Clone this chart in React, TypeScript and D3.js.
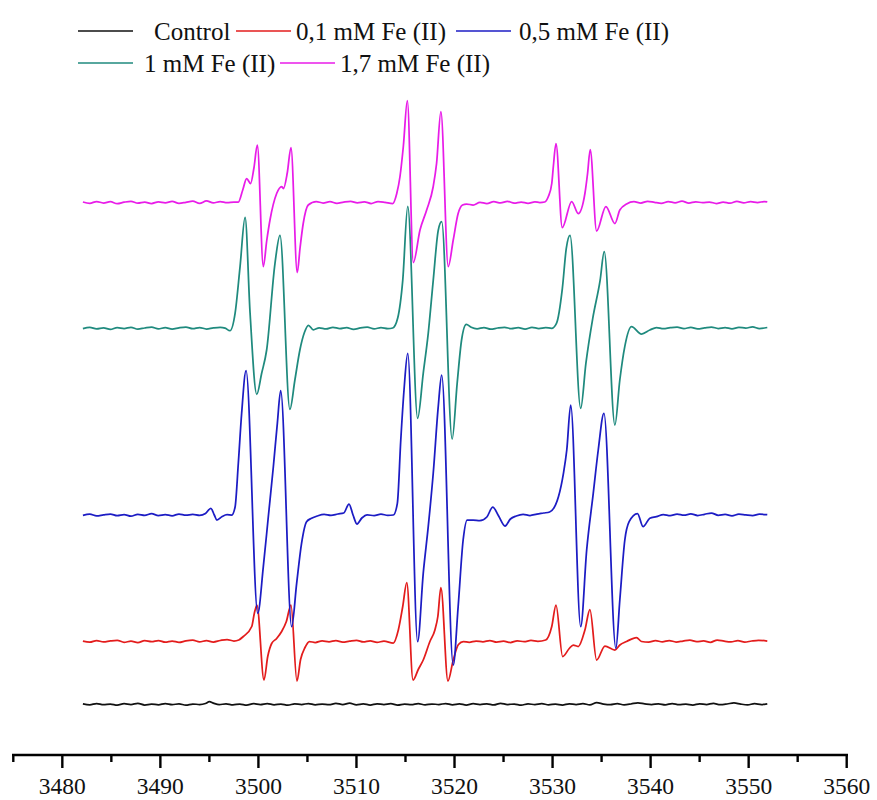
import React from 'react';
import * as d3 from 'd3';

const W = 877;
const H = 800;

const majorTicks = [3480, 3490, 3500, 3510, 3520, 3530, 3540, 3550, 3560];
const minorTicks = [3475, 3485, 3495, 3505, 3515, 3525, 3535, 3545, 3555];

const seriesNames = ['Control', '0,1 mM Fe (II)', '0,5 mM Fe (II)', '1 mM Fe (II)', '1,7 mM Fe (II)'];
const seriesColors = ['#111111', '#e31c1c', '#1c1cc4', '#1f8a7e', '#e81ce8'];
const seriesOffsets = [50.7, 113.5, 240, 426.7, 552.5];

// [field (G), signal relative to the trace's own baseline]
const controlData: number[][] = [
  [3482.1, 0.5], [3482.8, -0.6], [3483.5, 0.8], [3484.2, -0.4], [3484.9, 0.3], [3485.6, -0.9], [3486.3, 0.6], [3487.0, -0.2],
  [3487.7, 0.9], [3488.4, -0.7], [3489.1, 0.2], [3489.8, -0.5], [3490.5, 0.7], [3491.2, -0.3], [3491.9, 0.4], [3492.6, -0.8],
  [3493.3, 0.3], [3494.0, -0.2], [3494.6, 0.8], [3495.0, 2.6], [3495.4, 1.2], [3496.0, -0.4], [3496.7, 0.5], [3497.4, -0.6],
  [3498.1, 0.3], [3498.8, -0.8], [3499.5, 0.6], [3500.2, -0.3], [3500.9, 0.7], [3501.6, -0.5], [3502.3, 0.2], [3503.0, -0.9],
  [3503.7, 0.5], [3504.4, -0.2], [3505.1, 0.8], [3505.8, -0.6], [3506.5, 0.3], [3507.2, -0.4], [3507.9, 0.9], [3508.6, -0.2],
  [3509.3, 1.2], [3510.0, -0.5], [3510.7, 0.4], [3511.4, -0.7], [3512.1, 0.5], [3512.8, -0.3], [3513.5, 0.6], [3514.2, -0.8],
  [3514.9, 0.2], [3515.6, -0.4], [3516.3, 0.7], [3517.0, -0.6], [3517.7, 0.3], [3518.4, -0.2], [3519.1, 0.8], [3519.8, -0.5],
  [3520.5, 0.4], [3521.2, -0.7], [3521.9, 0.6], [3522.6, -0.3], [3523.3, 0.5], [3524.0, -0.6], [3524.7, 1.0], [3525.4, -0.2],
  [3526.1, 0.3], [3526.8, -0.8], [3527.5, 0.4], [3528.2, -0.3], [3528.9, 0.6], [3529.6, -0.5], [3530.3, 0.2], [3531.0, -0.7],
  [3531.7, 0.5], [3532.4, -0.2], [3533.1, 0.7], [3533.8, -0.6], [3534.5, 1.6], [3535.2, 0.2], [3535.9, -0.4], [3536.6, 0.6],
  [3537.3, -0.5], [3538.0, 0.3], [3538.7, 1.5], [3539.4, 0.5], [3540.1, -0.2], [3540.8, 0.4], [3541.5, -0.6], [3542.2, 0.8],
  [3542.9, -0.3], [3543.6, 0.2], [3544.3, -0.7], [3545.0, 0.5], [3545.7, -0.2], [3546.4, 0.9], [3547.1, -0.4], [3547.8, 0.3],
  [3548.5, 1.4], [3549.2, 0.2], [3549.9, -0.5], [3550.6, 0.6], [3551.3, -0.2], [3551.9, 0.5],
];

const fe01Data: number[][] = [
  [3482.1, 0.4], [3482.8, -0.7], [3483.5, 0.9], [3484.2, -0.4], [3484.9, 0.6], [3485.6, 1.2], [3486.3, -0.8], [3487.0, 0.3],
  [3487.7, -1.0], [3488.4, 0.8], [3489.1, -0.2], [3489.8, 1.0], [3490.5, -0.6], [3491.2, 0.5], [3491.9, -0.9], [3492.6, 0.7],
  [3493.3, 1.4], [3494.0, -0.3], [3494.7, 0.8], [3495.4, -0.5], [3496.1, 1.0], [3496.8, 2.0], [3497.5, 0.5], [3498.0, 1.5],
  [3498.46, 5], [3499.32, 15], [3499.58, 28], [3499.85, 36.5], [3500.57, -38.5], [3500.95, -15], [3501.35, -2], [3501.86, 3],
  [3502.37, 10], [3502.85, 20], [3503.32, 36.5], [3503.93, -39.5], [3504.3, -18], [3504.75, -6], [3505.2, 0],
  [3505.8, -1.0], [3506.5, 0.6], [3507.2, -0.3], [3507.9, 0.9], [3508.6, -0.6], [3509.3, 0.4], [3510.0, 1.2], [3510.7, -0.4],
  [3511.4, 0.7], [3512.1, -0.8], [3512.8, 0.3], [3513.76, -1.5],
  [3514.27, 11.5], [3514.72, 35], [3515.13, 59], [3515.77, -38.5], [3516.3, -28], [3516.81, -18.5], [3517.49, 0], [3518.0, 11.5],
  [3518.3, 25], [3518.61, 54], [3519.33, -39.5], [3519.87, -18.5], [3520.4, -3], [3520.9, 0],
  [3521.5, -0.8], [3522.2, 0.5], [3522.9, -0.4], [3523.6, 1.0], [3524.3, -0.6], [3525.0, 0.3], [3525.7, -1.0], [3526.4, 0.7],
  [3527.1, -0.2], [3527.8, 1.1], [3528.5, 0.2], [3529.3, 1.5],
  [3529.92, 15], [3530.35, 36.5], [3531.03, -15], [3531.7, -7], [3532.11, -3.5], [3532.62, -5], [3533.3, 11.5], [3533.81, 32],
  [3534.49, -18.5], [3535.34, -4.5], [3536.36, -8.5], [3536.86, -3.5], [3537.55, 0], [3538.56, 4], [3539.07, 0],
  [3539.8, -0.6], [3540.5, 0.8], [3541.2, -0.3], [3541.9, 1.0], [3542.6, -0.5], [3543.3, 0.4], [3544.0, 1.3], [3544.7, -0.2],
  [3545.4, 0.6], [3546.1, -0.8], [3546.8, 1.5], [3547.5, 0.3], [3548.2, -0.4], [3548.9, 0.9], [3549.6, -0.6], [3550.3, 0.5],
  [3551.0, 1.2], [3551.9, 0.4],
];

const fe05Data: number[][] = [
  [3482.1, -0.3], [3482.8, 0.8], [3483.5, -0.9], [3484.2, 0.2], [3484.9, 1.0], [3485.6, -0.6], [3486.3, 0.4], [3487.0, -1.2],
  [3487.7, 0.7], [3488.4, -0.3], [3489.1, 1.3], [3489.8, -0.5], [3490.5, 0.4], [3491.2, -0.8], [3491.9, 1.0], [3492.6, -0.2],
  [3493.3, 0.6], [3494.0, -0.4], [3494.6, 1.5], [3495.15, 6.7], [3495.5, 0], [3495.76, -5], [3496.3, -1.5], [3496.8, 0.3],
  [3497.28, 0],
  [3497.62, 8], [3497.95, 51.7], [3498.29, 101.7], [3498.74, 144.3], [3499.93, -98.3], [3500.5, -51.7], [3501.01, -1.7],
  [3501.52, 48], [3501.93, 91.7], [3502.27, 124.3], [3503.39, -111.7], [3503.9, -68.3], [3504.4, -28.3], [3504.91, -6.7],
  [3505.42, -3.3],
  [3506.0, -1.0], [3506.7, 0.6], [3507.4, -0.4], [3508.1, 1.0], [3508.7, 2], [3509.24, 11], [3509.65, 0], [3510.05, -9],
  [3510.55, -3], [3511.1, 0.2], [3511.8, -0.7], [3512.5, 0.8], [3513.2, -0.3], [3513.76, 0],
  [3514.17, 11.7], [3514.52, 75], [3514.85, 125], [3515.23, 161.7], [3516.24, -126.7], [3516.81, -58.3], [3517.32, -11.7],
  [3517.83, 41.7], [3518.34, 108.3], [3518.69, 140], [3519.87, -150], [3520.37, -91.7], [3520.88, -25], [3521.29, -5],
  [3521.9, -5], [3522.58, -5.7],
  [3523.3, -2], [3523.9, 8], [3524.5, -1], [3525.15, -11], [3525.7, -4], [3526.3, -1], [3527.0, 0.6], [3527.7, -0.5],
  [3528.4, 0.9], [3529.1, 2], [3529.7, 3],
  [3530.6, 18.3], [3531.11, 41.7], [3531.45, 65], [3531.85, 110], [3532.87, -111.7], [3533.48, -35], [3534.15, 21.7],
  [3534.66, 65], [3535.24, 101.7], [3536.46, -133.3], [3536.86, -85], [3537.37, -25], [3537.81, -6.7], [3538.66, 1.5],
  [3539.23, -11.7], [3539.92, -3.3], [3540.6, -1.7],
  [3541.3, 0.5], [3542.0, -0.6], [3542.7, 0.9], [3543.4, -0.2], [3544.1, 1.1], [3544.8, -0.5], [3545.5, 0.7], [3546.2, 2.0],
  [3546.9, -0.3], [3547.6, 0.6], [3548.3, -0.8], [3549.0, 0.9], [3549.7, 0.1], [3550.4, -0.6], [3551.1, 0.8], [3551.9, 0.4],
];

const fe1Data: number[][] = [
  [3482.1, -0.3], [3482.8, 0.9], [3483.5, -0.6], [3484.2, 0.4], [3484.9, -1.1], [3485.6, 0.7], [3486.3, -0.2], [3487.0, 1.0],
  [3487.7, -0.8], [3488.4, 0.3], [3489.1, 1.2], [3489.8, -0.5], [3490.5, 0.6], [3491.2, -0.9], [3491.9, 0.5], [3492.6, 1.3],
  [3493.3, -0.4], [3494.0, 0.8], [3494.7, -0.7], [3495.4, 0.4], [3496.1, 1.0], [3496.6, 0.2], [3497.1, -2.4],
  [3497.62, 15], [3498.13, 62], [3498.64, 111], [3499.15, 15], [3499.83, -66], [3500.33, -45], [3500.84, -21.7],
  [3501.69, 65], [3502.2, 93], [3503.21, -81], [3503.72, -51.7], [3504.23, -21.7], [3504.7, -4], [3505.1, 3], [3505.6, -1.5],
  [3506.2, 0.5], [3506.9, -0.6], [3507.6, 1.0], [3508.3, -0.3], [3509.0, 0.7], [3509.7, -1.0], [3510.4, 0.4], [3511.1, 1.1],
  [3511.8, -0.5], [3512.5, 0.6], [3513.2, -0.4], [3513.7, 0.3],
  [3514.2, 10], [3514.72, 48], [3515.23, 122], [3516.24, -90], [3516.81, -45], [3517.32, -5], [3517.83, 48], [3518.34, 98],
  [3518.69, 106.6], [3519.76, -110.7], [3520.27, -55], [3520.72, -11.7], [3521.2, 4], [3521.7, 1],
  [3522.3, -0.5], [3523.0, 0.8], [3523.7, -0.9], [3524.4, 0.3], [3525.1, 1.0], [3525.8, -0.4], [3526.5, 0.6], [3527.2, -0.8],
  [3527.9, 0.9], [3528.6, -0.2], [3529.3, 0.7], [3529.9, 0.0],
  [3530.4, 5], [3531.0, 40], [3531.4, 80], [3531.78, 93], [3532.87, -80], [3533.4, -35], [3534.1, 10], [3534.85, 48],
  [3535.27, 76.6], [3536.36, -96.7], [3536.86, -51.7], [3537.37, -18], [3538.05, 1.7], [3539.07, -5.7], [3539.92, -1.7],
  [3540.6, 0.8], [3541.3, -0.4], [3542.0, 0.6], [3542.7, 1.2], [3543.4, -0.3], [3544.1, 0.9], [3544.8, -0.6], [3545.5, 0.4],
  [3546.2, 1.3], [3546.9, -0.2], [3547.6, 0.7], [3548.3, -0.5], [3549.0, 1.0], [3549.7, 0.2], [3550.4, 1.4], [3551.1, -0.3],
  [3551.9, 0.8],
];

const fe17Data: number[][] = [
  [3482.1, 0.5], [3482.8, -0.8], [3483.5, 1.0], [3484.2, -0.5], [3484.9, 0.8], [3485.6, -1.2], [3486.3, 0.3], [3487.0, 1.2],
  [3487.7, -0.6], [3488.4, 0.4], [3489.1, -1.0], [3489.8, 0.6], [3490.5, -0.3], [3491.2, 1.1], [3491.9, -0.8], [3492.6, 0.2],
  [3493.3, 1.4], [3494.0, -0.9], [3494.7, 1.6], [3495.4, -0.4], [3496.1, 0.9], [3496.8, -0.2], [3497.5, 0.5], [3497.95, 0.3],
  [3498.4, 12.5], [3498.8, 24], [3499.2, 19], [3499.55, 35], [3499.89, 57.5], [3500.5, -64], [3500.85, -38], [3501.18, -17.5],
  [3501.86, 9], [3502.37, 16], [3502.55, 14], [3502.95, 30], [3503.32, 55], [3503.96, -70], [3504.25, -45], [3504.57, -21],
  [3505.08, -2.5],
  [3505.9, 1.0], [3506.6, -0.5], [3507.3, 0.8], [3508.0, -0.9], [3508.7, 0.4], [3509.4, 1.2], [3510.1, -0.3], [3510.8, 0.6],
  [3511.5, -1.0], [3512.2, 0.9], [3512.9, 0.2], [3513.7, -1.0],
  [3514.11, 9], [3514.44, 26], [3514.78, 56], [3515.19, 102], [3515.8, -60], [3516.48, -27.5], [3517.16, -7.5], [3517.83, 16],
  [3518.17, 39], [3518.61, 91], [3519.36, -64], [3519.87, -37.5], [3520.37, -11], [3520.82, -2.5], [3521.23, -1.5],
  [3521.9, -2.5], [3522.6, 0.2], [3523.3, -1.0], [3524.0, 0.8], [3524.7, -0.4], [3525.4, 1.1], [3526.1, -0.6], [3526.8, 0.5],
  [3527.5, -0.8], [3528.2, 0.6], [3528.7, 0.0], [3529.2, 0.5],
  [3529.57, 6], [3529.92, 19], [3530.08, 36], [3530.35, 59], [3530.99, -25], [3531.95, 1], [3532.62, -11], [3533.3, 9],
  [3533.57, 29], [3533.84, 53], [3534.49, -28.5], [3535.44, -4], [3536.36, -21], [3536.86, -7.5], [3537.55, -1.5],
  [3538.3, 0.8], [3539.0, -0.5], [3539.7, 1.2], [3540.4, 0.1], [3541.1, -0.8], [3541.8, 0.9], [3542.5, -0.3], [3543.2, 1.3],
  [3543.9, -0.6], [3544.6, 0.7], [3545.3, -0.2], [3546.0, 0.5], [3546.7, -1.0], [3547.4, 0.4], [3548.1, -0.7], [3548.8, 1.1],
  [3549.5, -0.4], [3550.2, 0.9], [3550.9, 0.0], [3551.6, 1.0], [3551.9, 0.6],
];

const seriesData = [controlData, fe01Data, fe05Data, fe1Data, fe17Data];

// legend layout
const legendRows = [0, 0, 0, 1, 1];
const legendLineX = [78, 236, 456, 78, 280];
const legendTextX = [154, 296, 519, 144, 340];
const legendRowY = [31, 63];

export default function App() {
  const x = d3.scaleLinear().domain([3475, 3560]).range([13.3, 846.7]);
  const y = d3.scaleLinear().domain([0, 700]).range([755, 55]);
  const axisY = y(0);

  const paths = seriesData.map((data, i) => {
    const line = d3
      .line<number[]>()
      .x((d) => x(d[0]))
      .y((d) => y(d[1] + seriesOffsets[i]))
      .curve(d3.curveMonotoneX);
    return line(data) || '';
  });

  const font = '"Liberation Serif", "Times New Roman", serif';

  return (
    <svg
      width={W}
      height={H}
      viewBox={`0 0 ${W} ${H}`}
      style={{ position: 'absolute', left: 0, top: 0, display: 'block', background: '#fff' }}
    >
      <rect x={0} y={0} width={W} height={H} fill="#ffffff" />
      {paths.map((p, i) => (
        <path key={i} d={p} fill="none" stroke={seriesColors[i]} strokeWidth={1.75} strokeLinejoin="round" />
      ))}

      <line x1={x(3475)} x2={x(3560)} y1={axisY} y2={axisY} stroke="#000" strokeWidth={2.6} strokeLinecap="square" />
      {majorTicks.map((t) => (
        <line key={'M' + t} x1={x(t)} x2={x(t)} y1={axisY} y2={axisY + 13} stroke="#000" strokeWidth={2.4} />
      ))}
      {minorTicks.map((t) => (
        <line key={'m' + t} x1={x(t)} x2={x(t)} y1={axisY} y2={axisY + 7} stroke="#000" strokeWidth={2.4} />
      ))}
      {majorTicks.map((t) => (
        <text key={'L' + t} x={x(t)} y={794} textAnchor="middle" fontFamily={font} fontSize={23.5} fill="#111">
          {t}
        </text>
      ))}

      {seriesNames.map((name, i) => {
        const ly = legendRowY[legendRows[i]];
        return (
          <g key={'lg' + i}>
            <line x1={legendLineX[i]} x2={legendLineX[i] + 55} y1={ly} y2={ly} stroke={seriesColors[i]} strokeWidth={1.6} />
            <text x={legendTextX[i]} y={ly + 8.5} fontFamily={font} fontSize={25} fill="#111">
              {name}
            </text>
          </g>
        );
      })}
    </svg>
  );
}
